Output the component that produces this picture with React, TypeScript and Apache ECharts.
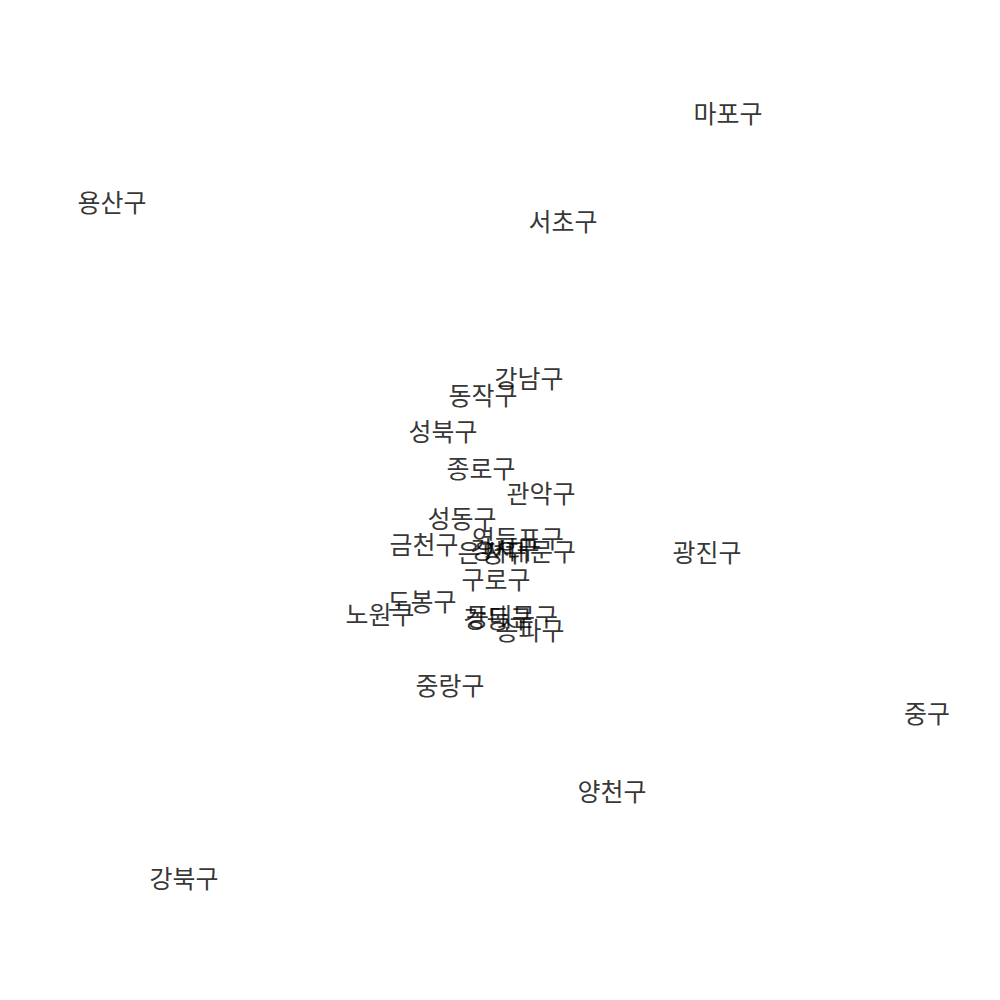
import React, { useEffect, useRef } from "react";
import * as echarts from "echarts";

const districts = [
  "마포구", "용산구", "서초구", "강남구", "동작구", "성북구", "종로구", "관악구",
  "성동구", "금천구", "영등포구", "은평구", "서대문구", "강서구", "광진구", "구로구",
  "도봉구", "노원구", "동대문구", "강동구", "송파구", "중랑구", "중구", "양천구", "강북구",
];
const xValues = [
  728, 112, 563, 529, 483, 443, 481, 541,
  462, 424, 518, 492, 530, 505, 707, 496,
  422, 380, 512, 498, 530, 450, 927, 612, 184,
];
const yValues = [
  112, 201, 220, 377, 394, 430, 467, 492,
  517, 543, 537, 551, 550, 548, 551, 578,
  600, 613, 615, 617, 629, 684, 712, 790, 877,
];

export default function App() {
  const ref = useRef<HTMLDivElement>(null);
  useEffect(() => {
    if (!ref.current) return;
    const chart = echarts.init(ref.current, null, { renderer: "svg" });
    chart.setOption({
      animation: false,
      backgroundColor: "#ffffff",
      grid: { left: 0, right: 0, top: 0, bottom: 0 },
      xAxis: { type: "value", min: 0, max: 1000, show: false },
      yAxis: { type: "value", min: 0, max: 1000, inverse: true, show: false },
      series: [
        {
          type: "scatter",
          symbolSize: 1,
          itemStyle: { color: "rgba(0,0,0,0)" },
          data: districts.map((d, i) => ({ name: d, value: [xValues[i], yValues[i]] })),
          label: {
            show: true,
            position: "inside",
            formatter: (p: any) => p.name,
            color: "#000000",
            fontSize: 25,
            fontFamily: "Noto Sans CJK KR",
          },
          labelLayout: { hideOverlap: false },
        },
      ],
    });
    return () => chart.dispose();
  }, []);
  return (
    <div
      ref={ref}
      style={{ position: "fixed", left: 0, top: 0, width: 1000, height: 1000, background: "#fff" }}
    />
  );
}
